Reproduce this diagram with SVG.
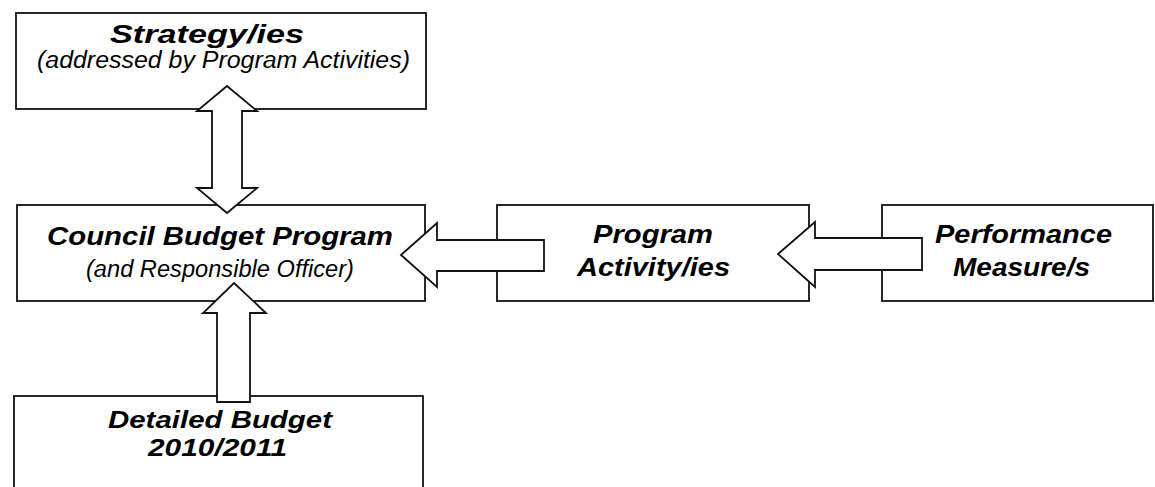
<svg xmlns="http://www.w3.org/2000/svg" width="1155" height="487" viewBox="0 0 1155 487">
<style>
.box{fill:#fff;stroke:#111;stroke-width:1.8}
.arrow{fill:#fff;stroke:#111;stroke-width:1.8;stroke-linejoin:miter}
.t{font-family:"Liberation Sans",Arial,sans-serif;font-style:italic;font-weight:bold;font-size:25px;fill:#000;text-anchor:middle}
.s{font-family:"Liberation Sans",Arial,sans-serif;font-style:italic;font-size:23px;fill:#000;text-anchor:middle}
.d{font-size:23.5px}
</style>
<rect width="1155" height="487" fill="#fff"/>
<g id="strategy">
<rect class="box" x="16" y="13" width="410" height="96"/>
<text class="t" x="207" y="43" textLength="194" lengthAdjust="spacingAndGlyphs">Strategy/ies</text>
<text class="s" x="223.5" y="68" textLength="373" lengthAdjust="spacingAndGlyphs">(addressed by Program Activities)</text>
</g>
<g id="council">
<rect class="box" x="17" y="205" width="408" height="96"/>
<text class="t" x="220" y="245" textLength="346" lengthAdjust="spacingAndGlyphs">Council Budget Program</text>
<text class="s" x="220" y="277" textLength="268" lengthAdjust="spacingAndGlyphs">(and Responsible Officer)</text>
</g>
<g id="activity">
<rect class="box" x="497" y="205" width="312" height="96"/>
<text class="t" x="653" y="243" textLength="120" lengthAdjust="spacingAndGlyphs">Program</text>
<text class="t" x="653.5" y="276" textLength="153" lengthAdjust="spacingAndGlyphs">Activity/ies</text>
</g>
<g id="performance">
<rect class="box" x="882" y="205" width="271" height="96"/>
<text class="t" x="1023.5" y="243" textLength="177" lengthAdjust="spacingAndGlyphs">Performance</text>
<text class="t" x="1021.5" y="276" textLength="137" lengthAdjust="spacingAndGlyphs">Measure/s</text>
</g>
<g id="detailed">
<rect class="box" x="14" y="396" width="409" height="100"/>
<text class="t d" x="220" y="428" textLength="224" lengthAdjust="spacingAndGlyphs">Detailed Budget</text>
<text class="t d" x="217.5" y="456" textLength="139" lengthAdjust="spacingAndGlyphs">2010/2011</text>
</g>
<g id="connectors">
<polygon class="arrow" points="227,86 257,111 242,111 242,188 257,188 227,213 197,188 212,188 212,111 197,111"/>
<polygon class="arrow" points="234,283 266,313 250,313 250,402 217,402 217,313 203,313"/>
<polygon class="arrow" points="401,255 437,223 437,240 544,240 544,271 437,271 437,287"/>
<polygon class="arrow" points="778,254 815,222 815,238 922,238 922,270 815,270 815,287"/>
</g>
</svg>
